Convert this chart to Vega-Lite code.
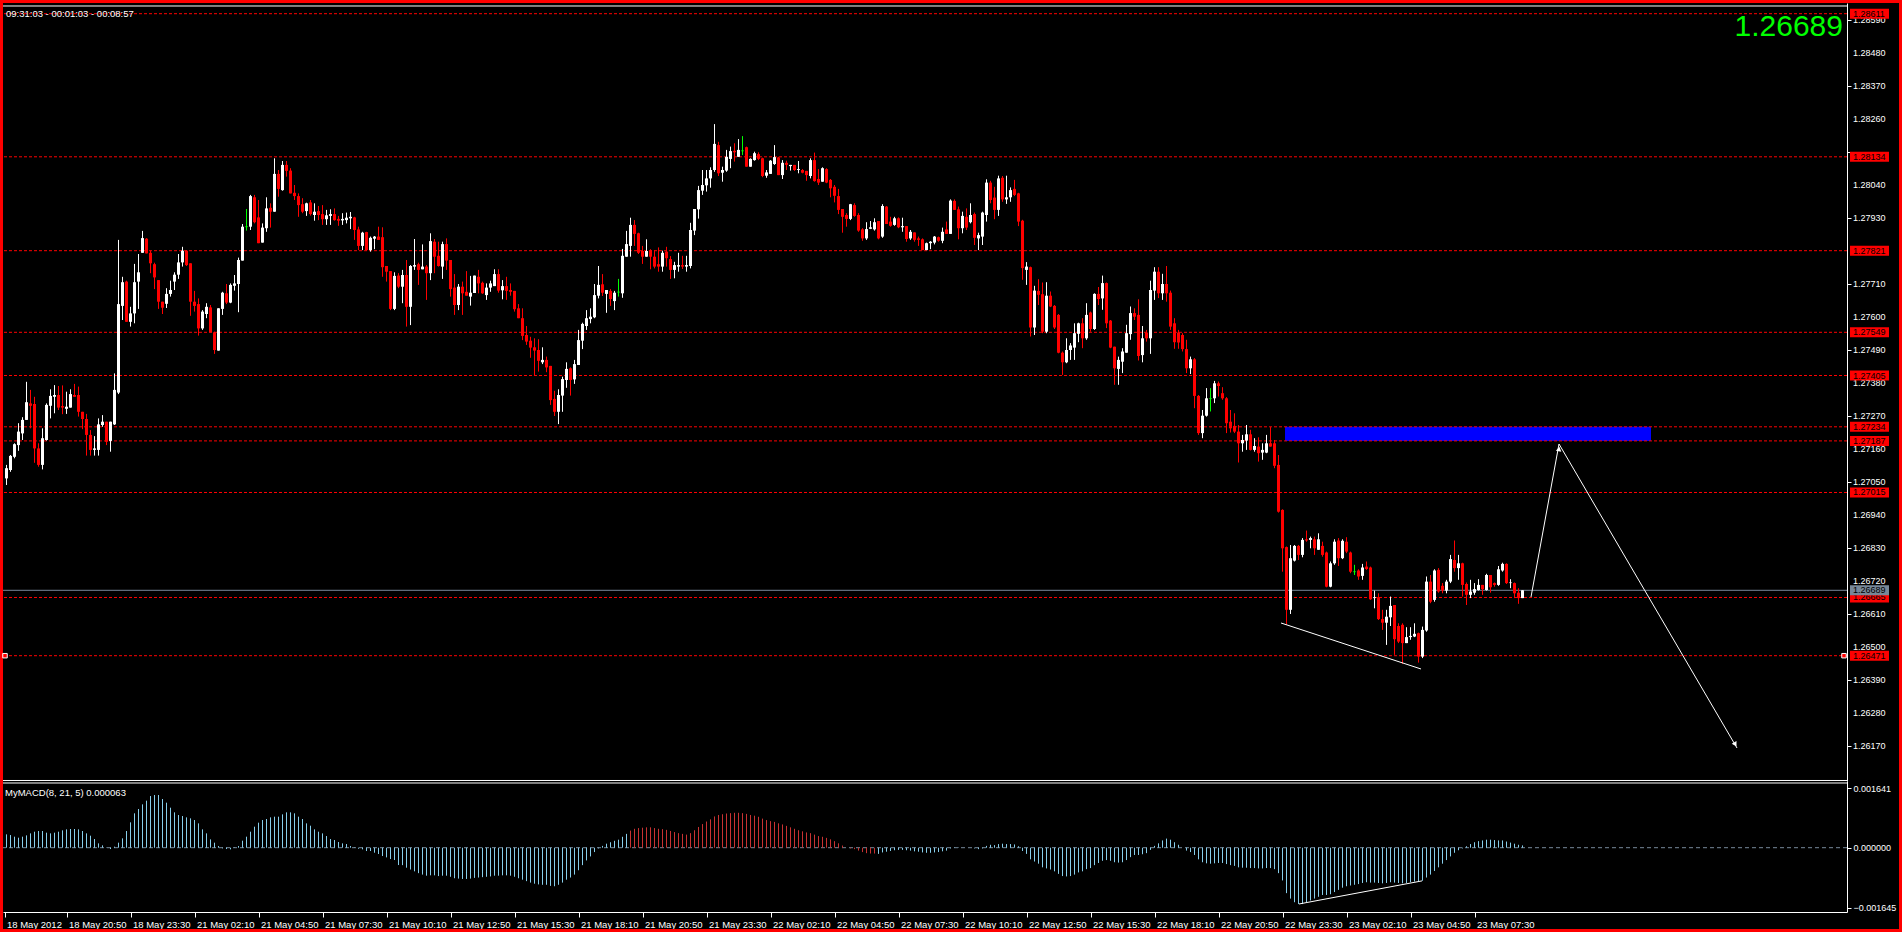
{
"$schema": "https://vega.github.io/schema/vega-lite/v6.json",
"background": "#000000",
"padding": 0,
"spacing": 0,
"config": {
  "view": {"stroke": null},
  "scale": {"continuousPadding": 0},
  "axis": {"labelFont": "Liberation Sans", "labelFontSize": 9, "labelColor": "#ffffff", "tickColor": "#ffffff", "domainColor": "#ffffff", "grid": false, "labelOverlap": false, "labelFlush": false},
  "text": {"font": "Liberation Sans"}
},
"datasets": {
"bars": [
{"i":0,"o":1.27062,"h":1.27107,"l":1.2704,"c":1.27096,"m":0.000367},
{"i":1,"o":1.2709,"h":1.2714,"l":1.27084,"c":1.27137,"m":0.000348},
{"i":2,"o":1.27134,"h":1.27179,"l":1.27129,"c":1.27176,"m":0.000303},
{"i":3,"o":1.27173,"h":1.27246,"l":1.27154,"c":1.27218,"m":0.000275},
{"i":4,"o":1.27212,"h":1.27266,"l":1.2719,"c":1.27257,"m":0.000303},
{"i":5,"o":1.27257,"h":1.27384,"l":1.27257,"c":1.27316,"m":0.000339},
{"i":6,"o":1.27312,"h":1.27357,"l":1.27229,"c":1.27304,"m":0.000394},
{"i":7,"o":1.2731,"h":1.27334,"l":1.27114,"c":1.27162,"m":0.00044},
{"i":8,"o":1.27162,"h":1.27179,"l":1.27101,"c":1.27107,"m":0.000459},
{"i":9,"o":1.27107,"h":1.27229,"l":1.27092,"c":1.27196,"m":0.000459},
{"i":10,"o":1.2719,"h":1.27312,"l":1.27188,"c":1.27307,"m":0.000413},
{"i":11,"o":1.27304,"h":1.27359,"l":1.27262,"c":1.27337,"m":0.000394},
{"i":12,"o":1.27334,"h":1.27373,"l":1.27279,"c":1.2734,"m":0.000413},
{"i":13,"o":1.2734,"h":1.2737,"l":1.2729,"c":1.27298,"m":0.00044},
{"i":14,"o":1.27303,"h":1.27372,"l":1.27276,"c":1.27298,"m":0.000477},
{"i":15,"o":1.27294,"h":1.27351,"l":1.27277,"c":1.27301,"m":0.000504},
{"i":16,"o":1.27298,"h":1.27359,"l":1.27298,"c":1.27343,"m":0.000514},
{"i":17,"o":1.2734,"h":1.27377,"l":1.27334,"c":1.27334,"m":0.000514},
{"i":18,"o":1.2734,"h":1.27368,"l":1.27268,"c":1.27284,"m":0.000504},
{"i":19,"o":1.27284,"h":1.27284,"l":1.27226,"c":1.2726,"m":0.000459},
{"i":20,"o":1.2726,"h":1.27277,"l":1.27138,"c":1.27207,"m":0.000394},
{"i":21,"o":1.27207,"h":1.27223,"l":1.27138,"c":1.27157,"m":0.00033},
{"i":22,"o":1.27157,"h":1.27203,"l":1.27138,"c":1.27162,"m":0.000238},
{"i":23,"o":1.27157,"h":1.27262,"l":1.27138,"c":1.27242,"m":0.000119},
{"i":24,"o":1.2724,"h":1.27273,"l":1.27234,"c":1.27251,"m":0.000064},
{"i":25,"o":1.27251,"h":1.27251,"l":1.27173,"c":1.27184,"m":0.000009},
{"i":26,"o":1.27187,"h":1.27251,"l":1.27151,"c":1.27251,"m":-0.000037},
{"i":27,"o":1.27242,"h":1.27412,"l":1.2724,"c":1.27357,"m":0.000028},
{"i":28,"o":1.27348,"h":1.27857,"l":1.27343,"c":1.27643,"m":0.000138},
{"i":29,"o":1.27637,"h":1.27734,"l":1.2759,"c":1.27716,"m":0.000257},
{"i":30,"o":1.27718,"h":1.27721,"l":1.27584,"c":1.27584,"m":0.000459},
{"i":31,"o":1.27584,"h":1.27634,"l":1.27568,"c":1.27612,"m":0.000697},
{"i":32,"o":1.27612,"h":1.27777,"l":1.27579,"c":1.27716,"m":0.000945},
{"i":33,"o":1.27718,"h":1.2781,"l":1.27627,"c":1.27749,"m":0.001064},
{"i":34,"o":1.27814,"h":1.27887,"l":1.27814,"c":1.27863,"m":0.001192},
{"i":35,"o":1.27861,"h":1.27863,"l":1.27812,"c":1.27812,"m":0.001293},
{"i":36,"o":1.27814,"h":1.27821,"l":1.27746,"c":1.27779,"m":0.001421},
{"i":37,"o":1.27776,"h":1.27781,"l":1.27693,"c":1.27732,"m":0.001449},
{"i":38,"o":1.27723,"h":1.27723,"l":1.27627,"c":1.27651,"m":0.001449},
{"i":39,"o":1.27651,"h":1.27651,"l":1.2761,"c":1.27631,"m":0.001339},
{"i":40,"o":1.27644,"h":1.27696,"l":1.2763,"c":1.27677,"m":0.001238},
{"i":41,"o":1.27677,"h":1.27721,"l":1.27668,"c":1.2769,"m":0.0011},
{"i":42,"o":1.27718,"h":1.27749,"l":1.2769,"c":1.27741,"m":0.000972},
{"i":43,"o":1.27741,"h":1.2781,"l":1.27727,"c":1.27782,"m":0.000899},
{"i":44,"o":1.27782,"h":1.27834,"l":1.27768,"c":1.27821,"m":0.000871},
{"i":45,"o":1.27821,"h":1.27823,"l":1.2777,"c":1.27773,"m":0.000834},
{"i":46,"o":1.27779,"h":1.27779,"l":1.27604,"c":1.27651,"m":0.000807},
{"i":47,"o":1.27651,"h":1.27687,"l":1.27618,"c":1.27637,"m":0.000761},
{"i":48,"o":1.27643,"h":1.27662,"l":1.27538,"c":1.27562,"m":0.000669},
{"i":49,"o":1.27562,"h":1.27623,"l":1.27557,"c":1.27618,"m":0.000504},
{"i":50,"o":1.2761,"h":1.27646,"l":1.27596,"c":1.27634,"m":0.000394},
{"i":51,"o":1.27632,"h":1.2764,"l":1.27549,"c":1.27549,"m":0.000229},
{"i":52,"o":1.27549,"h":1.27551,"l":1.27477,"c":1.2749,"m":0.000138},
{"i":53,"o":1.27488,"h":1.27629,"l":1.27488,"c":1.27629,"m":0.000046},
{"i":54,"o":1.27627,"h":1.27684,"l":1.27607,"c":1.27681,"m":-0.000018},
{"i":55,"o":1.27679,"h":1.2771,"l":1.27643,"c":1.27648,"m":-0.000037},
{"i":56,"o":1.27648,"h":1.27712,"l":1.27646,"c":1.27707,"m":-0.000046},
{"i":57,"o":1.27704,"h":1.2774,"l":1.27688,"c":1.27712,"m":0.000009},
{"i":58,"o":1.2771,"h":1.27798,"l":1.27616,"c":1.2779,"m":0.000046},
{"i":59,"o":1.27788,"h":1.2791,"l":1.27788,"c":1.27901,"m":0.000193},
{"i":60,"o":1.27901,"h":1.2796,"l":1.27888,"c":1.27901,"m":0.000303},
{"i":61,"o":1.27901,"h":1.28007,"l":1.2789,"c":1.28003,"m":0.00044},
{"i":62,"o":1.27999,"h":1.28007,"l":1.27912,"c":1.27916,"m":0.000578},
{"i":63,"o":1.27932,"h":1.2799,"l":1.27846,"c":1.27846,"m":0.000688},
{"i":64,"o":1.27848,"h":1.27912,"l":1.27848,"c":1.27898,"m":0.000761},
{"i":65,"o":1.27896,"h":1.27999,"l":1.27884,"c":1.27962,"m":0.000789},
{"i":66,"o":1.27964,"h":1.27979,"l":1.27898,"c":1.27951,"m":0.000834},
{"i":67,"o":1.27951,"h":1.28129,"l":1.27951,"c":1.28077,"m":0.000853},
{"i":68,"o":1.28077,"h":1.2809,"l":1.28001,"c":1.28027,"m":0.000853},
{"i":69,"o":1.28023,"h":1.2812,"l":1.28021,"c":1.28107,"m":0.000917},
{"i":70,"o":1.28107,"h":1.2812,"l":1.28068,"c":1.28087,"m":0.000972},
{"i":71,"o":1.28088,"h":1.28096,"l":1.28012,"c":1.28012,"m":0.000972},
{"i":72,"o":1.28014,"h":1.2804,"l":1.2799,"c":1.28003,"m":0.000945},
{"i":73,"o":1.28003,"h":1.28012,"l":1.27934,"c":1.27973,"m":0.000853},
{"i":74,"o":1.27976,"h":1.27996,"l":1.27946,"c":1.27951,"m":0.000789},
{"i":75,"o":1.27953,"h":1.27981,"l":1.27937,"c":1.27979,"m":0.000669},
{"i":76,"o":1.27982,"h":1.2799,"l":1.27938,"c":1.27943,"m":0.000605},
{"i":77,"o":1.2794,"h":1.27979,"l":1.27921,"c":1.27951,"m":0.000504},
{"i":78,"o":1.27953,"h":1.2797,"l":1.27923,"c":1.2794,"m":0.00044},
{"i":79,"o":1.27943,"h":1.27973,"l":1.27907,"c":1.27926,"m":0.000394},
{"i":80,"o":1.27926,"h":1.27957,"l":1.27907,"c":1.27939,"m":0.000321},
{"i":81,"o":1.27937,"h":1.27959,"l":1.27907,"c":1.27943,"m":0.000238},
{"i":82,"o":1.27943,"h":1.27962,"l":1.27921,"c":1.27923,"m":0.000211},
{"i":83,"o":1.27927,"h":1.27937,"l":1.27904,"c":1.27921,"m":0.000156},
{"i":84,"o":1.27922,"h":1.27946,"l":1.27907,"c":1.27927,"m":0.000119},
{"i":85,"o":1.27923,"h":1.27948,"l":1.27912,"c":1.27931,"m":0.000101},
{"i":86,"o":1.27929,"h":1.2795,"l":1.27893,"c":1.27934,"m":0.000046},
{"i":87,"o":1.27932,"h":1.27934,"l":1.27857,"c":1.2789,"m":0.000009},
{"i":88,"o":1.27892,"h":1.27901,"l":1.27823,"c":1.27837,"m":-0.000028},
{"i":89,"o":1.27837,"h":1.27884,"l":1.27823,"c":1.27881,"m":-0.000046},
{"i":90,"o":1.27883,"h":1.27884,"l":1.27821,"c":1.27823,"m":-0.000092},
{"i":91,"o":1.27823,"h":1.27868,"l":1.27818,"c":1.27864,"m":-0.000092},
{"i":92,"o":1.27861,"h":1.2787,"l":1.27826,"c":1.27868,"m":-0.000138},
{"i":93,"o":1.27868,"h":1.27901,"l":1.27857,"c":1.27857,"m":-0.000174},
{"i":94,"o":1.27866,"h":1.27899,"l":1.27734,"c":1.27766,"m":-0.000229},
{"i":95,"o":1.2777,"h":1.2777,"l":1.27718,"c":1.27751,"m":-0.000266},
{"i":96,"o":1.27753,"h":1.27753,"l":1.27623,"c":1.27627,"m":-0.000312},
{"i":97,"o":1.27627,"h":1.27749,"l":1.27623,"c":1.27737,"m":-0.000339},
{"i":98,"o":1.27738,"h":1.27746,"l":1.27696,"c":1.27701,"m":-0.000477},
{"i":99,"o":1.27701,"h":1.27757,"l":1.27646,"c":1.2774,"m":-0.00048},
{"i":100,"o":1.2774,"h":1.2779,"l":1.27568,"c":1.27634,"m":-0.00055},
{"i":101,"o":1.27634,"h":1.27773,"l":1.27573,"c":1.2777,"m":-0.0006},
{"i":102,"o":1.27768,"h":1.2786,"l":1.27757,"c":1.27773,"m":-0.00065},
{"i":103,"o":1.27776,"h":1.27781,"l":1.27707,"c":1.27757,"m":-0.0007},
{"i":104,"o":1.27759,"h":1.27842,"l":1.27759,"c":1.27768,"m":-0.00074},
{"i":105,"o":1.27768,"h":1.27773,"l":1.27657,"c":1.27746,"m":-0.00077},
{"i":106,"o":1.27746,"h":1.27879,"l":1.27723,"c":1.27853,"m":-0.00076},
{"i":107,"o":1.27851,"h":1.2786,"l":1.27746,"c":1.27801,"m":-0.00076},
{"i":108,"o":1.27804,"h":1.27851,"l":1.27768,"c":1.2777,"m":-0.00078},
{"i":109,"o":1.27768,"h":1.27851,"l":1.27727,"c":1.27843,"m":-0.00077},
{"i":110,"o":1.27843,"h":1.27862,"l":1.27757,"c":1.27788,"m":-0.00077},
{"i":111,"o":1.2779,"h":1.2779,"l":1.27668,"c":1.27693,"m":-0.0008},
{"i":112,"o":1.27698,"h":1.27743,"l":1.27607,"c":1.2764,"m":-0.00084},
{"i":113,"o":1.2764,"h":1.2771,"l":1.27623,"c":1.27701,"m":-0.00085},
{"i":114,"o":1.27701,"h":1.27718,"l":1.27607,"c":1.27679,"m":-0.00086},
{"i":115,"o":1.27684,"h":1.27753,"l":1.27671,"c":1.27671,"m":-0.00086},
{"i":116,"o":1.27668,"h":1.27737,"l":1.27638,"c":1.27681,"m":-0.00085},
{"i":117,"o":1.2768,"h":1.27738,"l":1.2768,"c":1.27738,"m":-0.00083},
{"i":118,"o":1.27734,"h":1.27757,"l":1.27679,"c":1.27712,"m":-0.00082},
{"i":119,"o":1.27714,"h":1.27718,"l":1.27677,"c":1.27679,"m":-0.00081},
{"i":120,"o":1.27673,"h":1.27712,"l":1.27657,"c":1.27698,"m":-0.0008},
{"i":121,"o":1.27698,"h":1.27721,"l":1.27684,"c":1.27712,"m":-0.00079},
{"i":122,"o":1.27703,"h":1.27759,"l":1.27703,"c":1.27743,"m":-0.00077},
{"i":123,"o":1.27743,"h":1.27759,"l":1.27681,"c":1.27688,"m":-0.00077},
{"i":124,"o":1.27689,"h":1.27723,"l":1.27659,"c":1.27703,"m":-0.00076},
{"i":125,"o":1.27703,"h":1.27734,"l":1.27657,"c":1.27687,"m":-0.00076},
{"i":126,"o":1.2769,"h":1.27712,"l":1.27671,"c":1.27684,"m":-0.00077},
{"i":127,"o":1.27687,"h":1.27687,"l":1.27618,"c":1.27626,"m":-0.0008},
{"i":128,"o":1.27629,"h":1.27643,"l":1.27596,"c":1.27596,"m":-0.00084},
{"i":129,"o":1.27596,"h":1.27629,"l":1.27523,"c":1.27537,"m":-0.00088},
{"i":130,"o":1.2754,"h":1.2757,"l":1.27507,"c":1.27518,"m":-0.00092},
{"i":131,"o":1.27521,"h":1.27534,"l":1.27464,"c":1.27498,"m":-0.00096},
{"i":132,"o":1.27499,"h":1.27529,"l":1.27404,"c":1.27488,"m":-0.00099},
{"i":133,"o":1.2749,"h":1.27526,"l":1.27418,"c":1.27454,"m":-0.00101},
{"i":134,"o":1.27449,"h":1.27499,"l":1.27443,"c":1.27457,"m":-0.00102},
{"i":135,"o":1.27457,"h":1.27468,"l":1.27416,"c":1.27432,"m":-0.00102},
{"i":136,"o":1.27437,"h":1.27437,"l":1.27307,"c":1.27323,"m":-0.00105},
{"i":137,"o":1.27327,"h":1.27354,"l":1.2727,"c":1.27284,"m":-0.00106},
{"i":138,"o":1.27284,"h":1.27359,"l":1.27243,"c":1.2734,"m":-0.00102},
{"i":139,"o":1.27338,"h":1.27401,"l":1.27284,"c":1.27393,"m":-0.00096},
{"i":140,"o":1.2739,"h":1.27449,"l":1.27364,"c":1.27427,"m":-0.00088},
{"i":141,"o":1.27429,"h":1.27432,"l":1.27338,"c":1.2739,"m":-0.00082},
{"i":142,"o":1.27392,"h":1.27457,"l":1.27377,"c":1.27443,"m":-0.00074},
{"i":143,"o":1.2744,"h":1.27557,"l":1.2744,"c":1.27523,"m":-0.00062},
{"i":144,"o":1.27521,"h":1.27581,"l":1.27493,"c":1.27577,"m":-0.00048},
{"i":145,"o":1.2757,"h":1.27623,"l":1.27557,"c":1.27596,"m":-0.00035},
{"i":146,"o":1.27593,"h":1.27629,"l":1.27579,"c":1.27601,"m":-0.00024},
{"i":147,"o":1.27599,"h":1.2771,"l":1.27596,"c":1.27673,"m":-0.00012},
{"i":148,"o":1.27671,"h":1.2777,"l":1.27662,"c":1.27707,"m":-0.00002},
{"i":149,"o":1.27709,"h":1.27743,"l":1.2767,"c":1.27681,"m":0.00005},
{"i":150,"o":1.27677,"h":1.2769,"l":1.27614,"c":1.2769,"m":0.00011},
{"i":151,"o":1.27687,"h":1.27693,"l":1.27637,"c":1.2766,"m":0.00015},
{"i":152,"o":1.27653,"h":1.27687,"l":1.27623,"c":1.27681,"m":0.00019},
{"i":153,"o":1.27683,"h":1.27727,"l":1.27668,"c":1.27683,"m":0.00022},
{"i":154,"o":1.27679,"h":1.27827,"l":1.27664,"c":1.27804,"m":0.0003},
{"i":155,"o":1.27801,"h":1.27887,"l":1.27801,"c":1.27843,"m":0.00038},
{"i":156,"o":1.27837,"h":1.27931,"l":1.27801,"c":1.27907,"m":0.00047,"s":"r"},
{"i":157,"o":1.27907,"h":1.27923,"l":1.27837,"c":1.27877,"m":0.00052,"s":"r"},
{"i":158,"o":1.27879,"h":1.27881,"l":1.2781,"c":1.27814,"m":0.00054,"s":"r"},
{"i":159,"o":1.2782,"h":1.27837,"l":1.27777,"c":1.27801,"m":0.00055,"s":"r"},
{"i":160,"o":1.27801,"h":1.27859,"l":1.27801,"c":1.2782,"m":0.00056,"s":"r"},
{"i":161,"o":1.27823,"h":1.27826,"l":1.27759,"c":1.27801,"m":0.00056,"s":"r"},
{"i":162,"o":1.27801,"h":1.27823,"l":1.27762,"c":1.27768,"m":0.00054,"s":"r"},
{"i":163,"o":1.27776,"h":1.27832,"l":1.27751,"c":1.27768,"m":0.00052,"s":"r"},
{"i":164,"o":1.27768,"h":1.27821,"l":1.27751,"c":1.27814,"m":0.00051,"s":"r"},
{"i":165,"o":1.27818,"h":1.27834,"l":1.27768,"c":1.27796,"m":0.00049,"s":"r"},
{"i":166,"o":1.27793,"h":1.27803,"l":1.27727,"c":1.27757,"m":0.00046,"s":"r"},
{"i":167,"o":1.27757,"h":1.27784,"l":1.27729,"c":1.27773,"m":0.00043,"s":"r"},
{"i":168,"o":1.27768,"h":1.27814,"l":1.27751,"c":1.27773,"m":0.0004,"s":"r"},
{"i":169,"o":1.27773,"h":1.27804,"l":1.2776,"c":1.27768,"m":0.00038,"s":"r"},
{"i":170,"o":1.27768,"h":1.27804,"l":1.27751,"c":1.27773,"m":0.00036,"s":"r"},
{"i":171,"o":1.2777,"h":1.27914,"l":1.27762,"c":1.2789,"m":0.0004,"s":"r"},
{"i":172,"o":1.27888,"h":1.2796,"l":1.27873,"c":1.2796,"m":0.00048,"s":"r"},
{"i":173,"o":1.27959,"h":1.28037,"l":1.27928,"c":1.28023,"m":0.00057,"s":"r"},
{"i":174,"o":1.28021,"h":1.2809,"l":1.28007,"c":1.2804,"m":0.00065,"s":"r"},
{"i":175,"o":1.28039,"h":1.2809,"l":1.28018,"c":1.28062,"m":0.00072,"s":"r"},
{"i":176,"o":1.28062,"h":1.28099,"l":1.28031,"c":1.2809,"m":0.00078,"s":"r"},
{"i":177,"o":1.2809,"h":1.28243,"l":1.28084,"c":1.28177,"m":0.00086,"s":"r"},
{"i":178,"o":1.28173,"h":1.28184,"l":1.2807,"c":1.28079,"m":0.0009,"s":"r"},
{"i":179,"o":1.28081,"h":1.28101,"l":1.28051,"c":1.2809,"m":0.00092,"s":"r"},
{"i":180,"o":1.28088,"h":1.28157,"l":1.28084,"c":1.28134,"m":0.00094,"s":"r"},
{"i":181,"o":1.28127,"h":1.28168,"l":1.28096,"c":1.28153,"m":0.00095,"s":"r"},
{"i":182,"o":1.28154,"h":1.28179,"l":1.28118,"c":1.28149,"m":0.00096,"s":"r"},
{"i":183,"o":1.28134,"h":1.28193,"l":1.28134,"c":1.28157,"m":0.00096,"s":"r"},
{"i":184,"o":1.28154,"h":1.28203,"l":1.2814,"c":1.28154,"m":0.00095,"s":"r"},
{"i":185,"o":1.28166,"h":1.28168,"l":1.28101,"c":1.28101,"m":0.00093,"s":"r"},
{"i":186,"o":1.28101,"h":1.28129,"l":1.28101,"c":1.28127,"m":0.0009,"s":"r"},
{"i":187,"o":1.28123,"h":1.28151,"l":1.28121,"c":1.28146,"m":0.00088,"s":"r"},
{"i":188,"o":1.28143,"h":1.28149,"l":1.28123,"c":1.28127,"m":0.00085,"s":"r"},
{"i":189,"o":1.28129,"h":1.28131,"l":1.28066,"c":1.2807,"m":0.0008,"s":"r"},
{"i":190,"o":1.28071,"h":1.2809,"l":1.28064,"c":1.28082,"m":0.00076,"s":"r"},
{"i":191,"o":1.28077,"h":1.28123,"l":1.28077,"c":1.28121,"m":0.00073,"s":"r"},
{"i":192,"o":1.2811,"h":1.28173,"l":1.28107,"c":1.28133,"m":0.00071,"s":"r"},
{"i":193,"o":1.28132,"h":1.28134,"l":1.28073,"c":1.28073,"m":0.00067,"s":"r"},
{"i":194,"o":1.28073,"h":1.28123,"l":1.2806,"c":1.28114,"m":0.00064,"s":"r"},
{"i":195,"o":1.28114,"h":1.28121,"l":1.2809,"c":1.28107,"m":0.0006,"s":"r"},
{"i":196,"o":1.28103,"h":1.28107,"l":1.28088,"c":1.28107,"m":0.00056,"s":"r"},
{"i":197,"o":1.28107,"h":1.28107,"l":1.28087,"c":1.2809,"m":0.00052,"s":"r"},
{"i":198,"o":1.2809,"h":1.2812,"l":1.28079,"c":1.28093,"m":0.00048,"s":"r"},
{"i":199,"o":1.2809,"h":1.28093,"l":1.28079,"c":1.28081,"m":0.00045,"s":"r"},
{"i":200,"o":1.28087,"h":1.28087,"l":1.28054,"c":1.28073,"m":0.00042,"s":"r"},
{"i":201,"o":1.2807,"h":1.28129,"l":1.28062,"c":1.28123,"m":0.0004,"s":"r"},
{"i":202,"o":1.28123,"h":1.28148,"l":1.28051,"c":1.28053,"m":0.00036,"s":"r"},
{"i":203,"o":1.2806,"h":1.28093,"l":1.2804,"c":1.28048,"m":0.00032,"s":"r"},
{"i":204,"o":1.28051,"h":1.28099,"l":1.28051,"c":1.28096,"m":0.0003,"s":"r"},
{"i":205,"o":1.28093,"h":1.28096,"l":1.28046,"c":1.28048,"m":0.00027,"s":"r"},
{"i":206,"o":1.28057,"h":1.2806,"l":1.27999,"c":1.28029,"m":0.00023,"s":"r"},
{"i":207,"o":1.28034,"h":1.2804,"l":1.27982,"c":1.28004,"m":0.00018,"s":"r"},
{"i":208,"o":1.28003,"h":1.28027,"l":1.27943,"c":1.27957,"m":0.00012,"s":"r"},
{"i":209,"o":1.2796,"h":1.2796,"l":1.27881,"c":1.27934,"m":0.00006,"s":"r"},
{"i":210,"o":1.2794,"h":1.27946,"l":1.27901,"c":1.27927,"m":0,"s":"r"},
{"i":211,"o":1.27927,"h":1.27977,"l":1.27923,"c":1.27976,"m":-0.00002,"s":"r"},
{"i":212,"o":1.27973,"h":1.27979,"l":1.27934,"c":1.27937,"m":-0.00004,"s":"r"},
{"i":213,"o":1.2794,"h":1.27946,"l":1.27884,"c":1.27888,"m":-0.00008,"s":"r"},
{"i":214,"o":1.27892,"h":1.27896,"l":1.27854,"c":1.27862,"m":-0.00012,"s":"r"},
{"i":215,"o":1.27862,"h":1.27916,"l":1.27857,"c":1.27893,"m":-0.00015,"s":"r"},
{"i":216,"o":1.27894,"h":1.2792,"l":1.27893,"c":1.27899,"m":-0.00016,"s":"r"},
{"i":217,"o":1.27892,"h":1.27929,"l":1.27888,"c":1.27916,"m":-0.00016,"s":"r"},
{"i":218,"o":1.2792,"h":1.2792,"l":1.27859,"c":1.27862,"m":-0.00017},
{"i":219,"o":1.27868,"h":1.27976,"l":1.27864,"c":1.2797,"m":-0.00013},
{"i":220,"o":1.27968,"h":1.2797,"l":1.2791,"c":1.2791,"m":-0.00011},
{"i":221,"o":1.27918,"h":1.27934,"l":1.27901,"c":1.27904,"m":-0.00009},
{"i":222,"o":1.27907,"h":1.27934,"l":1.27904,"c":1.27929,"m":-0.00007},
{"i":223,"o":1.27929,"h":1.27932,"l":1.27896,"c":1.27899,"m":-0.00006},
{"i":224,"o":1.27899,"h":1.27931,"l":1.27884,"c":1.27903,"m":-0.00006},
{"i":225,"o":1.27903,"h":1.27903,"l":1.27851,"c":1.2786,"m":-0.00007},
{"i":226,"o":1.27862,"h":1.2789,"l":1.27857,"c":1.27884,"m":-0.00008},
{"i":227,"o":1.27882,"h":1.27882,"l":1.27851,"c":1.27857,"m":-0.0001},
{"i":228,"o":1.27862,"h":1.27868,"l":1.27837,"c":1.27857,"m":-0.00011},
{"i":229,"o":1.27859,"h":1.27862,"l":1.27823,"c":1.27823,"m":-0.00013},
{"i":230,"o":1.27823,"h":1.27848,"l":1.27823,"c":1.27846,"m":-0.00014},
{"i":231,"o":1.27846,"h":1.27853,"l":1.27826,"c":1.27851,"m":-0.00014},
{"i":232,"o":1.27848,"h":1.2787,"l":1.27842,"c":1.27868,"m":-0.00013},
{"i":233,"o":1.27866,"h":1.27868,"l":1.27851,"c":1.27854,"m":-0.00012},
{"i":234,"o":1.27854,"h":1.27898,"l":1.27846,"c":1.27884,"m":-0.0001},
{"i":235,"o":1.27892,"h":1.27918,"l":1.27877,"c":1.27877,"m":-0.00008},
{"i":236,"o":1.27877,"h":1.27992,"l":1.27877,"c":1.27988,"m":-0.00002},
{"i":237,"o":1.27987,"h":1.27992,"l":1.27957,"c":1.27957,"m":0.00001},
{"i":238,"o":1.27959,"h":1.27968,"l":1.27859,"c":1.27896,"m":0.00001},
{"i":239,"o":1.27896,"h":1.27951,"l":1.27879,"c":1.27937,"m":0},
{"i":240,"o":1.27934,"h":1.27962,"l":1.2789,"c":1.27898,"m":0},
{"i":241,"o":1.27916,"h":1.27979,"l":1.27912,"c":1.2794,"m":0},
{"i":242,"o":1.27943,"h":1.27948,"l":1.2784,"c":1.27864,"m":-0.00002},
{"i":243,"o":1.27862,"h":1.27881,"l":1.27823,"c":1.27873,"m":-0.00004},
{"i":244,"o":1.27868,"h":1.27951,"l":1.2784,"c":1.27948,"m":-0.00002},
{"i":245,"o":1.2794,"h":1.28059,"l":1.27918,"c":1.28048,"m":0.00005},
{"i":246,"o":1.28048,"h":1.28054,"l":1.27979,"c":1.2799,"m":0.00008},
{"i":247,"o":1.27998,"h":1.28034,"l":1.27926,"c":1.27957,"m":0.00007},
{"i":248,"o":1.27957,"h":1.28071,"l":1.27937,"c":1.28062,"m":0.0001},
{"i":249,"o":1.28064,"h":1.2807,"l":1.27984,"c":1.27992,"m":0.00011},
{"i":250,"o":1.27992,"h":1.28071,"l":1.27977,"c":1.27999,"m":0.0001},
{"i":251,"o":1.27999,"h":1.28032,"l":1.27984,"c":1.28023,"m":0.0001},
{"i":252,"o":1.28027,"h":1.28057,"l":1.28003,"c":1.28007,"m":0.00009},
{"i":253,"o":1.28012,"h":1.28014,"l":1.27903,"c":1.27918,"m":0.00004},
{"i":254,"o":1.27921,"h":1.27924,"l":1.27724,"c":1.27763,"m":-0.00009},
{"i":255,"o":1.27757,"h":1.27783,"l":1.27707,"c":1.27768,"m":-0.00017},
{"i":256,"o":1.27766,"h":1.27768,"l":1.27535,"c":1.27565,"m":-0.00032},
{"i":257,"o":1.27565,"h":1.27704,"l":1.2754,"c":1.27688,"m":-0.00038},
{"i":258,"o":1.27687,"h":1.27726,"l":1.2764,"c":1.27674,"m":-0.00044},
{"i":259,"o":1.27676,"h":1.27715,"l":1.27546,"c":1.27551,"m":-0.00054},
{"i":260,"o":1.27551,"h":1.27716,"l":1.27546,"c":1.27671,"m":-0.00057},
{"i":261,"o":1.27671,"h":1.27685,"l":1.27633,"c":1.27635,"m":-0.0006},
{"i":262,"o":1.27637,"h":1.2764,"l":1.2756,"c":1.27565,"m":-0.00065},
{"i":263,"o":1.27607,"h":1.2761,"l":1.27479,"c":1.27481,"m":-0.00072},
{"i":264,"o":1.27481,"h":1.27485,"l":1.27407,"c":1.27449,"m":-0.00078},
{"i":265,"o":1.27449,"h":1.27529,"l":1.27446,"c":1.2749,"m":-0.00079},
{"i":266,"o":1.2749,"h":1.27513,"l":1.27457,"c":1.27505,"m":-0.00078},
{"i":267,"o":1.27498,"h":1.27579,"l":1.27457,"c":1.27546,"m":-0.00074},
{"i":268,"o":1.27544,"h":1.27581,"l":1.27516,"c":1.27579,"m":-0.00068},
{"i":269,"o":1.27579,"h":1.27596,"l":1.27496,"c":1.27529,"m":-0.00065},
{"i":270,"o":1.27529,"h":1.27646,"l":1.27524,"c":1.27607,"m":-0.00059},
{"i":271,"o":1.27615,"h":1.27618,"l":1.27551,"c":1.2756,"m":-0.00056},
{"i":272,"o":1.2756,"h":1.27679,"l":1.27557,"c":1.27677,"m":-0.00048},
{"i":273,"o":1.27677,"h":1.277,"l":1.2764,"c":1.2766,"m":-0.00042},
{"i":274,"o":1.27662,"h":1.27738,"l":1.27624,"c":1.27713,"m":-0.00036},
{"i":275,"o":1.27713,"h":1.27715,"l":1.27563,"c":1.27579,"m":-0.00034},
{"i":276,"o":1.27588,"h":1.2759,"l":1.27496,"c":1.27498,"m":-0.00036},
{"i":277,"o":1.27501,"h":1.27501,"l":1.27374,"c":1.27429,"m":-0.0004},
{"i":278,"o":1.27427,"h":1.27468,"l":1.27374,"c":1.27457,"m":-0.00041},
{"i":279,"o":1.27451,"h":1.27496,"l":1.27413,"c":1.27485,"m":-0.0004},
{"i":280,"o":1.27481,"h":1.27574,"l":1.27481,"c":1.27546,"m":-0.00034},
{"i":281,"o":1.27543,"h":1.27635,"l":1.27524,"c":1.27613,"m":-0.00026},
{"i":282,"o":1.27613,"h":1.27629,"l":1.2759,"c":1.27601,"m":-0.0002},
{"i":283,"o":1.27607,"h":1.27659,"l":1.27455,"c":1.2747,"m":-0.0002},
{"i":284,"o":1.27473,"h":1.2757,"l":1.27449,"c":1.27529,"m":-0.00018},
{"i":285,"o":1.27548,"h":1.27557,"l":1.27518,"c":1.27529,"m":-0.00015},
{"i":286,"o":1.27529,"h":1.27721,"l":1.27477,"c":1.2769,"m":-0.00006},
{"i":287,"o":1.27688,"h":1.27766,"l":1.27657,"c":1.27751,"m":0.00005},
{"i":288,"o":1.27751,"h":1.27766,"l":1.27663,"c":1.27679,"m":0.00012},
{"i":289,"o":1.27679,"h":1.27744,"l":1.27657,"c":1.2771,"m":0.0002},
{"i":290,"o":1.2771,"h":1.2777,"l":1.27651,"c":1.27679,"m":0.00025},
{"i":291,"o":1.27681,"h":1.27688,"l":1.27557,"c":1.27568,"m":0.00022},
{"i":292,"o":1.27579,"h":1.27596,"l":1.27494,"c":1.27516,"m":0.00015},
{"i":293,"o":1.27548,"h":1.27557,"l":1.27494,"c":1.27515,"m":0.00008},
{"i":294,"o":1.2754,"h":1.27546,"l":1.27485,"c":1.27493,"m":0},
{"i":295,"o":1.27493,"h":1.27524,"l":1.27413,"c":1.27429,"m":-0.00008},
{"i":296,"o":1.27429,"h":1.27468,"l":1.2741,"c":1.27459,"m":-0.00012},
{"i":297,"o":1.27459,"h":1.27463,"l":1.27296,"c":1.27337,"m":-0.0002},
{"i":298,"o":1.27337,"h":1.2734,"l":1.27207,"c":1.27213,"m":-0.00032},
{"i":299,"o":1.27213,"h":1.2729,"l":1.27196,"c":1.27271,"m":-0.0004},
{"i":300,"o":1.27271,"h":1.27363,"l":1.27268,"c":1.27329,"m":-0.00043},
{"i":301,"o":1.27328,"h":1.27363,"l":1.27285,"c":1.27328,"m":-0.00044},
{"i":302,"o":1.27329,"h":1.27387,"l":1.27313,"c":1.27379,"m":-0.00043},
{"i":303,"o":1.27379,"h":1.27385,"l":1.27335,"c":1.2737,"m":-0.00042},
{"i":304,"o":1.27346,"h":1.27366,"l":1.27324,"c":1.27329,"m":-0.00042},
{"i":305,"o":1.27329,"h":1.27333,"l":1.27213,"c":1.27246,"m":-0.00045},
{"i":306,"o":1.27251,"h":1.2729,"l":1.27215,"c":1.27229,"m":-0.00048},
{"i":307,"o":1.27237,"h":1.27279,"l":1.27213,"c":1.27218,"m":-0.0005},
{"i":308,"o":1.27218,"h":1.2724,"l":1.27115,"c":1.27179,"m":-0.00054},
{"i":309,"o":1.27179,"h":1.27207,"l":1.27151,"c":1.2719,"m":-0.00055},
{"i":310,"o":1.27188,"h":1.2724,"l":1.27157,"c":1.27209,"m":-0.00055},
{"i":311,"o":1.27209,"h":1.27224,"l":1.27155,"c":1.27157,"m":-0.00056},
{"i":312,"o":1.27157,"h":1.27196,"l":1.27151,"c":1.2717,"m":-0.00056},
{"i":313,"o":1.27168,"h":1.27199,"l":1.27118,"c":1.27146,"m":-0.00057},
{"i":314,"o":1.27148,"h":1.27179,"l":1.27124,"c":1.27157,"m":-0.00057},
{"i":315,"o":1.27148,"h":1.27207,"l":1.27146,"c":1.27179,"m":-0.00056},
{"i":316,"o":1.27179,"h":1.27233,"l":1.27168,"c":1.27168,"m":-0.00056},
{"i":317,"o":1.27179,"h":1.2719,"l":1.27096,"c":1.27104,"m":-0.00059},
{"i":318,"o":1.27107,"h":1.2714,"l":1.26948,"c":1.26951,"m":-0.0007},
{"i":319,"o":1.26957,"h":1.26959,"l":1.26751,"c":1.26829,"m":-0.0009},
{"i":320,"o":1.26833,"h":1.26835,"l":1.26574,"c":1.26624,"m":-0.00125},
{"i":321,"o":1.26624,"h":1.2684,"l":1.2661,"c":1.26796,"m":-0.0014},
{"i":322,"o":1.26788,"h":1.2684,"l":1.26785,"c":1.26837,"m":-0.0015},
{"i":323,"o":1.26837,"h":1.2684,"l":1.2679,"c":1.26807,"m":-0.00155},
{"i":324,"o":1.26807,"h":1.26863,"l":1.26799,"c":1.26857,"m":-0.00155},
{"i":325,"o":1.26859,"h":1.26888,"l":1.26851,"c":1.26855,"m":-0.0015},
{"i":326,"o":1.26857,"h":1.26868,"l":1.26829,"c":1.26863,"m":-0.00145},
{"i":327,"o":1.26859,"h":1.26868,"l":1.26807,"c":1.26829,"m":-0.0014},
{"i":328,"o":1.26824,"h":1.26879,"l":1.26824,"c":1.26859,"m":-0.00135},
{"i":329,"o":1.26837,"h":1.26851,"l":1.26801,"c":1.26807,"m":-0.0013},
{"i":330,"o":1.26815,"h":1.26818,"l":1.26699,"c":1.26701,"m":-0.0013},
{"i":331,"o":1.26701,"h":1.26785,"l":1.26699,"c":1.26779,"m":-0.00128},
{"i":332,"o":1.26779,"h":1.26859,"l":1.26774,"c":1.26851,"m":-0.00122},
{"i":333,"o":1.26855,"h":1.26863,"l":1.2677,"c":1.26796,"m":-0.00116},
{"i":334,"o":1.26796,"h":1.26859,"l":1.26793,"c":1.26854,"m":-0.0011},
{"i":335,"o":1.26851,"h":1.26866,"l":1.26813,"c":1.26818,"m":-0.00106},
{"i":336,"o":1.26815,"h":1.26818,"l":1.26746,"c":1.26751,"m":-0.00104},
{"i":337,"o":1.26751,"h":1.26774,"l":1.2674,"c":1.26751,"m":-0.00102},
{"i":338,"o":1.26755,"h":1.26759,"l":1.26724,"c":1.26735,"m":-0.001},
{"i":339,"o":1.26737,"h":1.26777,"l":1.26724,"c":1.26765,"m":-0.00097},
{"i":340,"o":1.26768,"h":1.26785,"l":1.26757,"c":1.2676,"m":-0.00095},
{"i":341,"o":1.26765,"h":1.26768,"l":1.26657,"c":1.26659,"m":-0.00096},
{"i":342,"o":1.26663,"h":1.26688,"l":1.26629,"c":1.26666,"m":-0.00096},
{"i":343,"o":1.26666,"h":1.26679,"l":1.2659,"c":1.26593,"m":-0.00097},
{"i":344,"o":1.26593,"h":1.26624,"l":1.26557,"c":1.26581,"m":-0.00098},
{"i":345,"o":1.26581,"h":1.26624,"l":1.26507,"c":1.26601,"m":-0.00097},
{"i":346,"o":1.26599,"h":1.26668,"l":1.2657,"c":1.26637,"m":-0.00095},
{"i":347,"o":1.2664,"h":1.2664,"l":1.26474,"c":1.26526,"m":-0.00096},
{"i":348,"o":1.2657,"h":1.26579,"l":1.26513,"c":1.26518,"m":-0.00097},
{"i":349,"o":1.26574,"h":1.26579,"l":1.26444,"c":1.26513,"m":-0.00098},
{"i":350,"o":1.26513,"h":1.26566,"l":1.26513,"c":1.26533,"m":-0.00097},
{"i":351,"o":1.26533,"h":1.26566,"l":1.26524,"c":1.26537,"m":-0.00095},
{"i":352,"o":1.26535,"h":1.26579,"l":1.26533,"c":1.26544,"m":-0.00093},
{"i":353,"o":1.26546,"h":1.26548,"l":1.26448,"c":1.26468,"m":-0.00093},
{"i":354,"o":1.26468,"h":1.26568,"l":1.26463,"c":1.26557,"m":-0.00091},
{"i":355,"o":1.26555,"h":1.26735,"l":1.26551,"c":1.26718,"m":-0.00082},
{"i":356,"o":1.26718,"h":1.2674,"l":1.26646,"c":1.26651,"m":-0.00074},
{"i":357,"o":1.26657,"h":1.26759,"l":1.26651,"c":1.26755,"m":-0.00064},
{"i":358,"o":1.26757,"h":1.26763,"l":1.26681,"c":1.26685,"m":-0.00054},
{"i":359,"o":1.26704,"h":1.26713,"l":1.26679,"c":1.26688,"m":-0.00044},
{"i":360,"o":1.26688,"h":1.26724,"l":1.26679,"c":1.26718,"m":-0.00034},
{"i":361,"o":1.26718,"h":1.26807,"l":1.26713,"c":1.26793,"m":-0.00024},
{"i":362,"o":1.2679,"h":1.26855,"l":1.26751,"c":1.26763,"m":-0.00014},
{"i":363,"o":1.26763,"h":1.26807,"l":1.26724,"c":1.26779,"m":-0.00007},
{"i":364,"o":1.26779,"h":1.26781,"l":1.26668,"c":1.26707,"m":-0.00002},
{"i":365,"o":1.2671,"h":1.26715,"l":1.2664,"c":1.26674,"m":0.00004},
{"i":366,"o":1.26674,"h":1.26724,"l":1.26663,"c":1.26685,"m":0.0001},
{"i":367,"o":1.26681,"h":1.26713,"l":1.26674,"c":1.26693,"m":0.00015},
{"i":368,"o":1.2669,"h":1.26726,"l":1.26688,"c":1.26707,"m":0.00018},
{"i":369,"o":1.26707,"h":1.26707,"l":1.26674,"c":1.26693,"m":0.0002},
{"i":370,"o":1.2669,"h":1.26744,"l":1.26688,"c":1.2674,"m":0.00022},
{"i":371,"o":1.2674,"h":1.2674,"l":1.26681,"c":1.26699,"m":0.00022},
{"i":372,"o":1.26713,"h":1.26715,"l":1.26701,"c":1.26707,"m":0.00021},
{"i":373,"o":1.26707,"h":1.2677,"l":1.26704,"c":1.26759,"m":0.0002},
{"i":374,"o":1.26755,"h":1.26781,"l":1.26751,"c":1.26777,"m":0.0002},
{"i":375,"o":1.26777,"h":1.26779,"l":1.2671,"c":1.26713,"m":0.00017},
{"i":376,"o":1.26713,"h":1.26726,"l":1.26696,"c":1.26715,"m":0.00014},
{"i":377,"o":1.26713,"h":1.26715,"l":1.26663,"c":1.26679,"m":0.00011},
{"i":378,"o":1.26681,"h":1.26696,"l":1.26644,"c":1.26663,"m":0.00008},
{"i":379,"o":1.26663,"h":1.26689,"l":1.26663,"c":1.26689,"m":0.000063}
],
"levels": [{"p":1.28611},{"p":1.28134},{"p":1.27821},{"p":1.27549},{"p":1.27405},{"p":1.27234},{"p":1.27187},{"p":1.27015},{"p":1.26665},{"p":1.26471}],
"yticks": [{"v":1.2859},{"v":1.2848},{"v":1.2837},{"v":1.2826},{"v":1.2804},{"v":1.2793},{"v":1.2771},{"v":1.276},{"v":1.2749},{"v":1.2738},{"v":1.2727},{"v":1.2716},{"v":1.2705},{"v":1.2694},{"v":1.2683},{"v":1.2672},{"v":1.2661},{"v":1.265},{"v":1.2639},{"v":1.2628},{"v":1.2617}],
"arrows": [{"seg":"a","x":381.125,"y":1.266667},{"seg":"a","x":388.125,"y":1.271767},{"seg":"b","x":388.125,"y":1.271767},{"seg":"b","x":432.625,"y":1.261633},{"seg":"c","x":318.625,"y":1.2658},{"seg":"c","x":353.625,"y":1.264267}],
"mdiv": [{"x":323.125,"y":-0.001548},{"x":353.875,"y":-0.000913}],
"one": [{"k":1}]
},
"vconcat": [
{
"width": 1844, "height": 778,
"layer": [
{"data": {"name": "one"}, "mark": {"type": "rect", "color": "#ff0000"},
 "encoding": {"x": {"datum": -1.625, "type": "quantitative", "scale": {"domain": [-0.875, 460.125], "nice": false, "zero": false}, "axis": null}, "x2": {"datum": 473.875},
  "y": {"datum": 1.2865667, "type": "quantitative", "scale": {"domain": [1.2605333, 1.2864667], "nice": false, "zero": false}}, "y2": {"datum": 1.2864667}}},
{"data": {"name": "one"}, "mark": {"type": "rect", "color": "#ff0000"},
 "encoding": {"x": {"datum": -1.625, "type": "quantitative", "scale": {"domain": [-0.875, 460.125], "nice": false, "zero": false}, "axis": null}, "x2": {"datum": -0.875},
  "y": {"datum": 1.2865667, "type": "quantitative", "scale": {"domain": [1.2605333, 1.2864667], "nice": false, "zero": false}}, "y2": {"datum": 1.2605333}}},
{"data": {"name": "one"}, "mark": {"type": "rect", "color": "#ff0000"},
 "encoding": {"x": {"datum": 473.125, "type": "quantitative", "scale": {"domain": [-0.875, 460.125], "nice": false, "zero": false}, "axis": null}, "x2": {"datum": 473.875},
  "y": {"datum": 1.2865667, "type": "quantitative", "scale": {"domain": [1.2605333, 1.2864667], "nice": false, "zero": false}}, "y2": {"datum": 1.2605333}}},
{"data": {"name": "one"}, "mark": {"type": "rect", "color": "#0000ff"},
 "encoding": {"x": {"datum": 319.625, "type": "quantitative", "scale": {"domain": [-0.875, 460.125], "nice": false, "zero": false}, "axis": null}, "x2": {"datum": 411.125},
  "y": {"datum": 1.27187, "type": "quantitative", "scale": {"domain": [1.2605333, 1.2864667], "nice": false, "zero": false}}, "y2": {"datum": 1.27234}}},
{"data": {"name": "one"}, "mark": {"type": "rule", "color": "#ffffff", "strokeWidth": 1},
 "encoding": {"y": {"datum": 1.2863667, "type": "quantitative", "scale": {"domain": [1.2605333, 1.2864667], "nice": false, "zero": false}}}},
{"data": {"name": "one"}, "mark": {"type": "rule", "color": "#ffffff", "strokeWidth": 1},
 "encoding": {"y": {"datum": 1.26055, "type": "quantitative", "scale": {"domain": [1.2605333, 1.2864667], "nice": false, "zero": false}}}},
{"data": {"name": "levels"}, "mark": {"type": "rule", "color": "#ff0000", "strokeWidth": 1, "strokeDash": [3, 2]},
 "encoding": {"y": {"field": "p", "type": "quantitative", "scale": {"domain": [1.2605333, 1.2864667], "nice": false, "zero": false}}}},
{"data": {"name": "one"}, "mark": {"type": "rule", "color": "#778899", "strokeWidth": 1},
 "encoding": {"y": {"datum": 1.26689, "type": "quantitative", "scale": {"domain": [1.2605333, 1.2864667], "nice": false, "zero": false}}}},
{"data": {"name": "bars"}, "mark": {"type": "rule", "strokeWidth": 1},
 "encoding": {
  "x": {"field": "i", "type": "quantitative", "scale": {"domain": [-0.875, 460.125], "nice": false, "zero": false}, "axis": null},
  "y": {"field": "l", "type": "quantitative", "scale": {"domain": [1.2605333, 1.2864667], "nice": false, "zero": false},
        "axis": {"orient": "right", "title": null, "values": [1.2859, 1.2848, 1.2837, 1.2826, 1.2815, 1.2804, 1.2793, 1.2782, 1.2771, 1.276, 1.2749, 1.2738, 1.2727, 1.2716, 1.2705, 1.2694, 1.2683, 1.2672, 1.2661, 1.265, 1.2639, 1.2628, 1.2617],
                 "labels": false, "tickSize": 4, "tickColor": "#ffffff", "domainColor": "#ffffff", "grid": false}},
  "y2": {"field": "h"},
  "color": {"condition": [{"test": "datum.c > datum.o", "value": "#ffffff"}, {"test": "datum.c == datum.o", "value": "#00ff00"}], "value": "#ff0000"}}},
{"data": {"name": "bars"}, "mark": {"type": "bar", "size": 3},
 "encoding": {
  "x": {"field": "i", "type": "quantitative", "scale": {"domain": [-0.875, 460.125], "nice": false, "zero": false}, "axis": null},
  "y": {"field": "o", "type": "quantitative", "scale": {"domain": [1.2605333, 1.2864667], "nice": false, "zero": false}},
  "y2": {"field": "c"},
  "color": {"condition": [{"test": "datum.c > datum.o", "value": "#ffffff"}, {"test": "datum.c == datum.o", "value": "#00ff00"}], "value": "#ff0000"}}},
{"data": {"name": "bars"}, "transform": [{"filter": "datum.o == datum.c"}], "mark": {"type": "tick", "orient": "horizontal", "size": 3, "thickness": 1, "color": "#00ff00"},
 "encoding": {
  "x": {"field": "i", "type": "quantitative", "scale": {"domain": [-0.875, 460.125], "nice": false, "zero": false}, "axis": null},
  "y": {"field": "o", "type": "quantitative", "scale": {"domain": [1.2605333, 1.2864667], "nice": false, "zero": false}}}},
{"data": {"name": "arrows"}, "mark": {"type": "line", "color": "#ffffff", "strokeWidth": 1},
 "encoding": {
  "x": {"field": "x", "type": "quantitative", "scale": {"domain": [-0.875, 460.125], "nice": false, "zero": false}, "axis": null},
  "y": {"field": "y", "type": "quantitative", "scale": {"domain": [1.2605333, 1.2864667], "nice": false, "zero": false}},
  "detail": {"field": "seg"}}},
{"data": {"name": "one"}, "mark": {"type": "point", "shape": "triangle-up", "filled": true, "color": "#ffffff", "size": 30, "angle": 10, "opacity": 1},
 "encoding": {"x": {"datum": 388.125, "type": "quantitative", "scale": {"domain": [-0.875, 460.125], "nice": false, "zero": false}, "axis": null},
  "y": {"datum": 1.2716, "type": "quantitative", "scale": {"domain": [1.2605333, 1.2864667], "nice": false, "zero": false}}}},
{"data": {"name": "one"}, "mark": {"type": "point", "shape": "triangle-up", "filled": true, "color": "#ffffff", "size": 30, "angle": 150, "opacity": 1},
 "encoding": {"x": {"datum": 432.2, "type": "quantitative", "scale": {"domain": [-0.875, 460.125], "nice": false, "zero": false}, "axis": null},
  "y": {"datum": 1.26175, "type": "quantitative", "scale": {"domain": [1.2605333, 1.2864667], "nice": false, "zero": false}}}},
{"data": {"name": "one"}, "mark": {"type": "point", "shape": "square", "filled": true, "fill": "#ff0000", "stroke": "#ffffff", "strokeWidth": 1, "size": 20, "opacity": 1},
 "encoding": {"x": {"datum": -0.375, "type": "quantitative", "scale": {"domain": [-0.875, 460.125], "nice": false, "zero": false}, "axis": null},
  "y": {"datum": 1.26471, "type": "quantitative", "scale": {"domain": [1.2605333, 1.2864667], "nice": false, "zero": false}}}},
{"data": {"name": "one"}, "mark": {"type": "point", "shape": "square", "filled": true, "fill": "#ff0000", "stroke": "#ffffff", "strokeWidth": 1, "size": 20, "opacity": 1},
 "encoding": {"x": {"datum": 459.375, "type": "quantitative", "scale": {"domain": [-0.875, 460.125], "nice": false, "zero": false}, "axis": null},
  "y": {"datum": 1.26471, "type": "quantitative", "scale": {"domain": [1.2605333, 1.2864667], "nice": false, "zero": false}}}},
{"data": {"name": "one"}, "mark": {"type": "text", "text": "1.26689", "color": "#00ff00", "fontSize": 30, "align": "right", "baseline": "alphabetic"},
 "encoding": {"x": {"datum": 459.125, "type": "quantitative", "scale": {"domain": [-0.875, 460.125], "nice": false, "zero": false}, "axis": null},
  "y": {"datum": 1.2853667, "type": "quantitative", "scale": {"domain": [1.2605333, 1.2864667], "nice": false, "zero": false}}}},
{"data": {"name": "one"}, "mark": {"type": "text", "text": "09:31:03 - 00:01:03 - 00:08:57", "color": "#ffffff", "fontSize": 9.5, "align": "left", "baseline": "alphabetic"},
 "encoding": {"x": {"datum": -0.125, "type": "quantitative", "scale": {"domain": [-0.875, 460.125], "nice": false, "zero": false}, "axis": null},
  "y": {"datum": 1.28601, "type": "quantitative", "scale": {"domain": [1.2605333, 1.2864667], "nice": false, "zero": false}}}},
{"data": {"name": "yticks"}, "mark": {"type": "text", "color": "#ffffff", "fontSize": 9, "align": "left", "baseline": "middle"},
 "encoding": {"x": {"datum": 461.625, "type": "quantitative", "scale": {"domain": [-0.875, 460.125], "nice": false, "zero": false}, "axis": null},
  "y": {"field": "v", "type": "quantitative", "scale": {"domain": [1.2605333, 1.2864667], "nice": false, "zero": false}},
  "text": {"field": "v", "type": "quantitative", "format": ".5f"}}},
{"data": {"name": "levels"}, "mark": {"type": "bar", "orient": "horizontal", "size": 10, "color": "#ff0000"},
 "encoding": {"x": {"datum": 460.875, "type": "quantitative", "scale": {"domain": [-0.875, 460.125], "nice": false, "zero": false}, "axis": null}, "x2": {"datum": 470.625},
  "y": {"field": "p", "type": "quantitative", "scale": {"domain": [1.2605333, 1.2864667], "nice": false, "zero": false}}}},
{"data": {"name": "levels"}, "mark": {"type": "text", "color": "#000000", "fontSize": 9, "align": "left", "baseline": "middle"},
 "encoding": {"x": {"datum": 461.625, "type": "quantitative", "scale": {"domain": [-0.875, 460.125], "nice": false, "zero": false}, "axis": null},
  "y": {"field": "p", "type": "quantitative", "scale": {"domain": [1.2605333, 1.2864667], "nice": false, "zero": false}},
  "text": {"field": "p", "type": "quantitative", "format": ".5f"}}},
{"data": {"name": "one"}, "mark": {"type": "bar", "orient": "horizontal", "size": 10, "color": "#778899"},
 "encoding": {"x": {"datum": 460.875, "type": "quantitative", "scale": {"domain": [-0.875, 460.125], "nice": false, "zero": false}, "axis": null}, "x2": {"datum": 470.625},
  "y": {"datum": 1.26689, "type": "quantitative", "scale": {"domain": [1.2605333, 1.2864667], "nice": false, "zero": false}}}},
{"data": {"name": "one"}, "mark": {"type": "text", "text": "1.26689", "color": "#000000", "fontSize": 9, "align": "left", "baseline": "middle"},
 "encoding": {"x": {"datum": 461.625, "type": "quantitative", "scale": {"domain": [-0.875, 460.125], "nice": false, "zero": false}, "axis": null},
  "y": {"datum": 1.26689, "type": "quantitative", "scale": {"domain": [1.2605333, 1.2864667], "nice": false, "zero": false}}}}
]
},
{
"width": 1844, "height": 131,
"layer": [
{"data": {"name": "one"}, "mark": {"type": "rect", "color": "#ff0000"},
 "encoding": {"x": {"datum": -1.625, "type": "quantitative", "scale": {"domain": [-0.875, 460.125], "nice": false, "zero": false}}, "x2": {"datum": -0.875},
  "y": {"datum": 0.0018343, "type": "quantitative", "scale": {"domain": [-0.0017683, 0.0018343], "nice": false, "zero": false}}, "y2": {"datum": -0.0023183}}},
{"data": {"name": "one"}, "mark": {"type": "rect", "color": "#ff0000"},
 "encoding": {"x": {"datum": 473.125, "type": "quantitative", "scale": {"domain": [-0.875, 460.125], "nice": false, "zero": false}}, "x2": {"datum": 473.875},
  "y": {"datum": 0.0018343, "type": "quantitative", "scale": {"domain": [-0.0017683, 0.0018343], "nice": false, "zero": false}}, "y2": {"datum": -0.0023183}}},
{"data": {"name": "one"}, "mark": {"type": "rect", "color": "#ff0000"},
 "encoding": {"x": {"datum": -1.625, "type": "quantitative", "scale": {"domain": [-0.875, 460.125], "nice": false, "zero": false}}, "x2": {"datum": 473.875},
  "y": {"datum": -0.0022358, "type": "quantitative", "scale": {"domain": [-0.0017683, 0.0018343], "nice": false, "zero": false}}, "y2": {"datum": -0.0023183}}},
{"data": {"name": "one"}, "mark": {"type": "rule", "color": "#ffffff", "strokeWidth": 1},
 "encoding": {"y": {"datum": 0.0017793, "type": "quantitative", "scale": {"domain": [-0.0017683, 0.0018343], "nice": false, "zero": false}}}},
{"data": {"name": "one"}, "mark": {"type": "rule", "color": "#778899", "strokeWidth": 1, "strokeDash": [4, 3]},
 "encoding": {"y": {"datum": 0, "type": "quantitative", "scale": {"domain": [-0.0017683, 0.0018343], "nice": false, "zero": false}}}},
{"data": {"name": "bars"}, "mark": {"type": "rule", "strokeWidth": 1},
 "encoding": {
  "x": {"field": "i", "type": "quantitative", "scale": {"domain": [-0.875, 460.125], "nice": false, "zero": false},
        "axis": {"orient": "bottom", "title": null, "values": [-0.5, 15, 31, 47, 63, 79, 95, 111, 127, 143, 159, 175, 191, 207, 223, 239, 255, 271, 287, 303, 319, 335, 351, 367],
                 "labelExpr": "['18 May 2012','18 May 20:50','18 May 23:30','21 May 02:10','21 May 04:50','21 May 07:30','21 May 10:10','21 May 12:50','21 May 15:30','21 May 18:10','21 May 20:50','21 May 23:30','22 May 02:10','22 May 04:50','22 May 07:30','22 May 10:10','22 May 12:50','22 May 15:30','22 May 18:10','22 May 20:50','22 May 23:30','23 May 02:10','23 May 04:50','23 May 07:30'][round((datum.value + 1) / 16)]",
                 "labelOverlap": false, "labelFontSize": 9.5, "tickSize": 5, "labelAlign": "left", "labelOffset": 2, "labelPadding": 2, "labelBaseline": "top", "labelColor": "#ffffff", "tickColor": "#ffffff", "domainColor": "#ffffff", "grid": false}},
  "y": {"field": "m", "type": "quantitative", "scale": {"domain": [-0.0017683, 0.0018343], "nice": false, "zero": false},
        "axis": {"orient": "right", "title": null, "values": [0.001641, 0, -0.001645], "format": ".6f", "labelOverlap": false, "labelFontSize": 9, "tickSize": 4, "labelPadding": 2, "labelBaseline": "middle", "labelAlign": "left", "labelColor": "#ffffff", "tickColor": "#ffffff", "domainColor": "#ffffff", "grid": false}},
  "y2": {"datum": 0},
  "color": {"condition": {"test": "datum.s == 'r'", "value": "#c83232"}, "value": "#87ceeb"}}},
{"data": {"name": "mdiv"}, "mark": {"type": "line", "color": "#ffffff", "strokeWidth": 1},
 "encoding": {
  "x": {"field": "x", "type": "quantitative", "scale": {"domain": [-0.875, 460.125], "nice": false, "zero": false}},
  "y": {"field": "y", "type": "quantitative", "scale": {"domain": [-0.0017683, 0.0018343], "nice": false, "zero": false}}}},
{"data": {"name": "one"}, "mark": {"type": "text", "text": "MyMACD(8, 21, 5) 0.000063", "color": "#ffffff", "fontSize": 9.5, "align": "left", "baseline": "middle"},
 "encoding": {"x": {"datum": -0.375, "type": "quantitative", "scale": {"domain": [-0.875, 460.125], "nice": false, "zero": false}},
  "y": {"datum": 0.0015125, "type": "quantitative", "scale": {"domain": [-0.0017683, 0.0018343], "nice": false, "zero": false}}}}
]
}
]
}
